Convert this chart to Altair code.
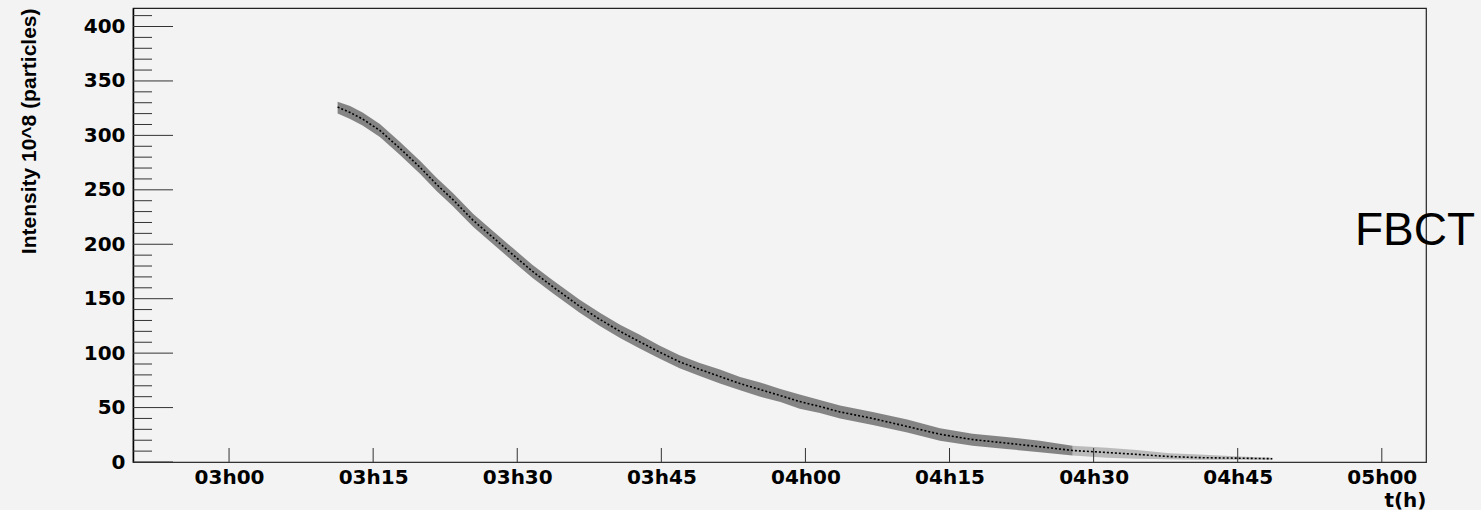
import altair as alt
import pandas as pd

# time in minutes since midnight, band centre / lower / upper (10^8 particles)
t_min = [191.3, 192.6, 193.9, 195.7, 197.8, 199.9, 201.6, 203.3, 205.4, 207.5, 209.6,
         211.6, 213.7, 216.5, 218.6, 220.7, 222.7, 224.8, 226.9, 229.0, 231.1,
         233.2, 235.3, 237.4, 239.4, 241.5, 243.6, 247.0, 250.6, 254.0, 257.4,
         260.9, 264.4, 267.8, 271.4, 274.5, 277.9, 281.0, 285.2, 288.6]
center = [326, 321, 315, 304.5, 288, 270.5, 255, 241, 222, 206, 190,
          175, 161, 143, 131, 120, 110.6, 101, 92, 85, 78.5,
          72, 66.5, 61, 55.5, 51, 46, 40, 32.6, 25.5, 20.6,
          17.4, 14, 10.6, 8.7, 7, 5, 4, 3.5, 3]
lower = [320, 315, 309, 298.5, 282, 264.5, 249, 235, 216, 200, 184,
         169, 155, 137, 125, 114, 104.5, 95, 86, 79, 72,
         66, 60, 55, 49, 45, 40, 34, 27, 19.5, 15,
         12, 9, 6, 4, 3, 2.5, 2, 2, 2]
upper = [331, 327, 321, 310.5, 294, 276.5, 261, 247, 228, 212, 196,
         181, 167, 149, 137, 126, 117, 107, 98, 91, 85,
         78, 73, 67, 62, 57, 52, 46, 39, 31, 26,
         23, 19.5, 15, 13, 11, 8, 7, 5, 4]

y_major = [0, 50, 100, 150, 200, 250, 300, 350, 400]
y_minor = [10, 20, 30, 40, 60, 70, 80, 90, 110, 120, 130, 140, 160, 170, 180, 190,
           210, 220, 230, 240, 260, 270, 280, 290, 310, 320, 330, 340, 360, 370,
           380, 390, 410]
x_ticks = [180, 195, 210, 225, 240, 255, 270, 285, 300]

W, H = 1293, 454

df = pd.DataFrame({"t": t_min, "c": center, "lo": lower, "hi": upper})
main_df = df[df.t <= 268]
tail_df = df[df.t >= 267.8]

xscale = alt.Scale(domain=[170, 304.6], nice=False, zero=False)
yscale = alt.Scale(domain=[0, 417], nice=False, zero=True)

xaxis = alt.Axis(values=x_ticks,
                 labelExpr="format(floor(datum.value/60),'02d') + 'h' + format(datum.value%60,'02d')",
                 labelFont="DejaVu Sans", labelFontWeight="bold", labelFontSize=20,
                 labelColor="black", labelPadding=5, labelFlush=False, labelOverlap=False,
                 ticks=False, tickSize=0, grid=False,
                 domainColor="#333333", domainWidth=1.2,
                 title="t(h)", titleFont="DejaVu Sans", titleFontWeight="bold",
                 titleFontSize=20, titleColor="black",
                 titleX=W, titleY=44, titleAlign="right", titleBaseline="alphabetic")

yaxis = alt.Axis(values=y_major, format="d",
                 labelFont="DejaVu Sans", labelFontWeight="bold", labelFontSize=20,
                 labelColor="black", labelPadding=8, labelFlush=False, labelOverlap=False,
                 ticks=False, tickSize=0, grid=False,
                 domainColor="black", domainWidth=1.5,
                 title="Intensity 10^8 (particles)", titleFont="Liberation Sans",
                 titleFontWeight="bold", titleFontSize=21, titleColor="black",
                 titleAngle=270, titleX=-104, titleY=0, titleAlign="right",
                 titleBaseline="middle")

band = alt.Chart(main_df).mark_area(color="#3a3a3a", opacity=0.6).encode(
    x=alt.X("t:Q", scale=xscale, axis=xaxis),
    y=alt.Y("lo:Q", scale=yscale, axis=yaxis),
    y2="hi:Q",
)
tail = alt.Chart(tail_df).mark_area(color="#3a3a3a", opacity=0.3).encode(
    x=alt.X("t:Q"), y=alt.Y("lo:Q"), y2="hi:Q",
)
line = alt.Chart(df).mark_line(color="black", strokeWidth=1.6, strokeDash=[2, 2]).encode(
    x=alt.X("t:Q"), y=alt.Y("c:Q"),
)

ymaj = alt.Chart(pd.DataFrame({"v": y_major})).mark_rule(color="#333333", strokeWidth=1).encode(
    y=alt.Y("v:Q"), x=alt.value(0), x2=alt.value(40))
ymin = alt.Chart(pd.DataFrame({"v": y_minor})).mark_rule(color="#333333", strokeWidth=1).encode(
    y=alt.Y("v:Q"), x=alt.value(0), x2=alt.value(19))
xt = alt.Chart(pd.DataFrame({"m": x_ticks})).mark_rule(color="#333333", strokeWidth=1).encode(
    x=alt.X("m:Q"), y=alt.value(H), y2=alt.value(H - 14))

label = alt.Chart(pd.DataFrame({"s": ["FBCT"]})).mark_text(
    font="Liberation Sans", fontSize=46, color="black", align="center",
    baseline="alphabetic").encode(
    text="s:N", x=alt.value(1282), y=alt.value(237))

chart = alt.layer(band, tail, line, ymaj, ymin, xt, label).properties(
    width=W, height=H,
    padding={"left": 133, "top": 8, "right": 55, "bottom": 48},
    autosize=alt.AutoSizeParams(type="none"),
    background="#f3f3f3",
).configure_view(stroke="#222222", strokeWidth=1.2)

chart.save("out.html", embed_options={"renderer": "svg", "actions": False})
